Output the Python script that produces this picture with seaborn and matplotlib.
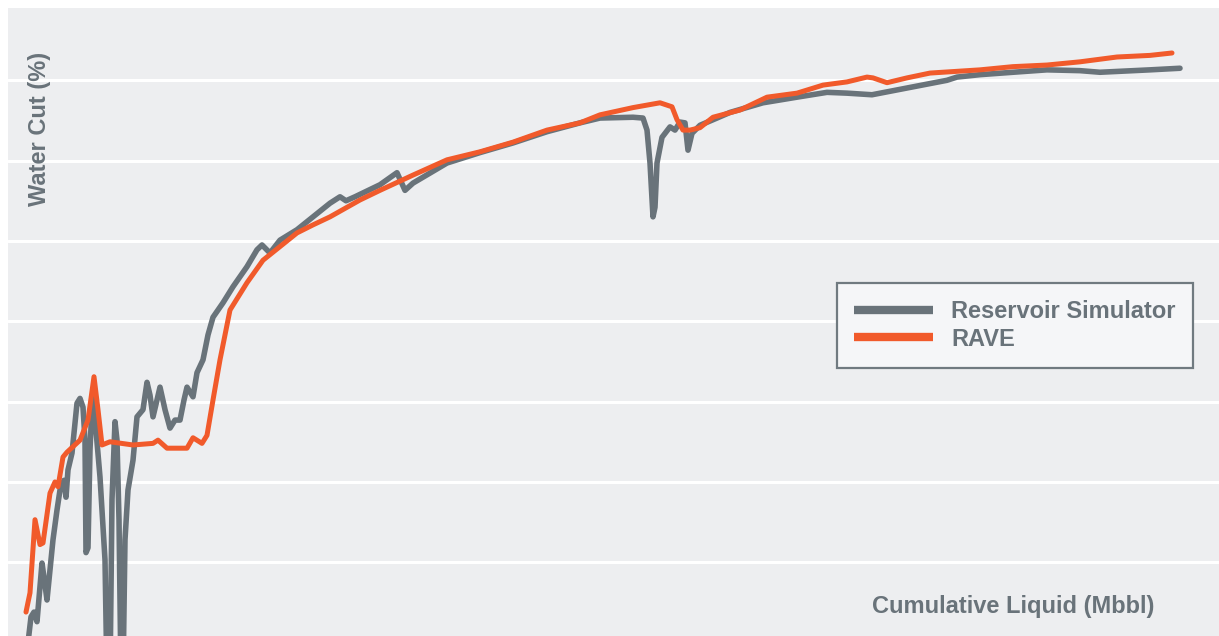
import matplotlib
matplotlib.use("Agg")
import matplotlib.pyplot as plt
from matplotlib.lines import Line2D
import numpy as np
import pandas as pd
import seaborn as sns

# Cumulative liquid (Mbbl) and water cut (%) for the reservoir simulator run
sim_liquid = [100, 115, 130, 145, 170, 185, 195, 205, 225, 245, 260, 270, 280, 290, 300,
              320, 345, 360, 375, 385, 390, 400, 410, 420, 425, 460, 485, 495, 510, 520,
              535, 545, 555, 565, 575, 585, 600, 625, 645, 675, 695, 710, 725, 745, 760,
              785, 810, 835, 860, 880, 895, 925, 945, 975, 1000, 1025, 1075, 1125, 1195,
              1245, 1270, 1310, 1360, 1445, 1525, 1610, 1660, 1690, 1735, 1860, 1945,
              1985, 2025, 2195, 2360, 2525, 2695, 2860, 2960, 3125, 3175, 3195, 3210,
              3225, 3235, 3245, 3270, 3310, 3335, 3360, 3385, 3400, 3420, 3460, 3545,
              3610, 3775, 3945, 4095, 4195, 4320, 4445, 4695, 4745, 4860, 5025, 5195,
              5360, 5460, 5710, 5860]
sim_watercut = [20.0, 23.2, 23.8, 22.6, 29.9, 27.2, 25.3, 27.8, 32.8, 36.5, 39.0, 39.6,
                40.2, 38.1, 41.5, 43.6, 49.8, 50.4, 49.3, 45.2, 31.2, 31.8, 44.0, 49.6,
                50.8, 40.6, 30.3, 15.3, 15.3, 37.8, 47.5, 45.2, 35.3, 15.3, 15.3, 32.8,
                39.0, 42.7, 48.1, 49.0, 52.4, 50.8, 48.1, 50.2, 51.8, 49.0, 46.7, 47.7,
                47.7, 50.2, 51.8, 50.6, 53.6, 55.2, 58.3, 60.5, 62.3, 64.3, 66.8, 68.9,
                69.5, 68.5, 70.1, 71.4, 73.0, 74.7, 75.5, 75.0, 75.5, 77.0, 78.5, 76.3,
                77.2, 79.7, 81.0, 82.2, 83.6, 84.7, 85.3, 85.4, 85.3, 83.8, 79.7, 73.0,
                74.2, 79.7, 82.9, 84.2, 83.8, 84.8, 84.7, 81.3, 83.4, 84.4, 85.3, 86.0,
                87.2, 87.9, 88.5, 88.4, 88.2, 88.8, 90.0, 90.4, 90.7, 91.0, 91.3, 91.2,
                91.0, 91.3, 91.5]

# Same quantities predicted by RAVE
rave_liquid = [90, 110, 135, 160, 175, 210, 235, 250, 275, 295, 360, 400, 430, 450, 470,
               510, 625, 725, 750, 795, 895, 925, 970, 995, 1025, 1060, 1110, 1195, 1275,
               1360, 1445, 1525, 1610, 1760, 1860, 2025, 2195, 2360, 2525, 2695, 2860,
               2960, 3125, 3260, 3320, 3345, 3375, 3410, 3460, 3525, 3660, 3795, 3945,
               4075, 4195, 4295, 4325, 4395, 4495, 4610, 4860, 5025, 5195, 5360, 5545,
               5710, 5820]
rave_watercut = [23.8, 26.2, 35.3, 32.2, 32.4, 38.6, 40.0, 39.4, 43.1, 43.7, 45.2, 47.7,
                 53.1, 49.0, 44.6, 45.0, 44.6, 44.8, 45.2, 44.2, 44.2, 45.5, 44.8, 45.8,
                 50.2, 55.2, 61.4, 64.8, 67.6, 69.3, 71.0, 72.0, 73.0, 75.1, 76.3, 78.2,
                 80.1, 81.1, 82.3, 83.8, 84.7, 85.7, 86.6, 87.2, 86.7, 85.1, 83.8, 83.8,
                 84.1, 85.4, 86.3, 87.9, 88.4, 89.4, 89.8, 90.4, 90.3, 89.7, 90.3, 90.9,
                 91.3, 91.7, 91.9, 92.3, 92.9, 93.1, 93.4]

series_names = ["Reservoir Simulator", "RAVE"]
series_colors = ["#69737a", "#f15a2b"]
grid_levels = [30, 40, 50, 60, 70, 80, 90]

df = pd.concat([
    pd.DataFrame({"liquid": sim_liquid, "watercut": sim_watercut,
                  "series": series_names[0], "order": np.arange(len(sim_liquid))}),
    pd.DataFrame({"liquid": rave_liquid, "watercut": rave_watercut,
                  "series": series_names[1], "order": np.arange(len(rave_liquid))}),
], ignore_index=True)

sns.set_theme(style="white")
plt.rcParams["font.family"] = ["Liberation Sans", "DejaVu Sans"]
plt.rcParams["font.weight"] = "bold"

text_color = "#69737a"
fig = plt.figure(figsize=(12.19, 6.36), dpi=100)
fig.patch.set_facecolor("white")
ax = fig.add_axes([8 / 1219, 0, 1211 / 1219, 628 / 636])
ax.set_facecolor("#edeef0")

for name, color, lw in zip(series_names, series_colors, [4.0, 3.6]):
    sns.lineplot(data=df[df["series"] == name], x="liquid", y="watercut",
                 sort=False, estimator=None, color=color, linewidth=lw,
                 solid_capstyle="round", solid_joinstyle="round", ax=ax, legend=False,
                 zorder=3)

ax.set_xlim(0, 6055)
ax.set_ylim(20.82, 99.0)
ax.set_yticks(grid_levels)
ax.set_xticks([])
ax.grid(axis="y", color="white", linewidth=2.2, zorder=1)
ax.tick_params(length=0, labelleft=False, labelbottom=False)
for s in ax.spines.values():
    s.set_visible(False)
ax.set_xlabel("")
ax.set_ylabel("")

ax.text(0.026, 0.807, "Water Cut (%)", rotation=90, ha="center", va="center",
        transform=ax.transAxes, fontsize=17, fontweight="bold", color=text_color)
ax.text(0.947, 0.0366, "Cumulative Liquid (Mbbl)", ha="right", va="baseline",
        transform=ax.transAxes, fontsize=17, fontweight="bold", color=text_color)

handles = [Line2D([0], [0], color=c, linewidth=6, solid_capstyle="butt")
           for c in series_colors]
leg = ax.legend(handles, series_names, loc="upper left",
                bbox_to_anchor=(0.6846, 0.5621), borderaxespad=0,
                fontsize=17, handlelength=3.35, handletextpad=0.76,
                labelspacing=0.2, borderpad=0.72, frameon=True, fancybox=False)
leg.get_frame().set_facecolor("#f5f6f8")
leg.get_frame().set_edgecolor("#707a80")
leg.get_frame().set_linewidth(1.6)
leg.get_frame().set_alpha(1)
for t in leg.get_texts():
    t.set_color(text_color)
    t.set_fontweight("bold")

fig.savefig("out.png", dpi=100, facecolor="white")
